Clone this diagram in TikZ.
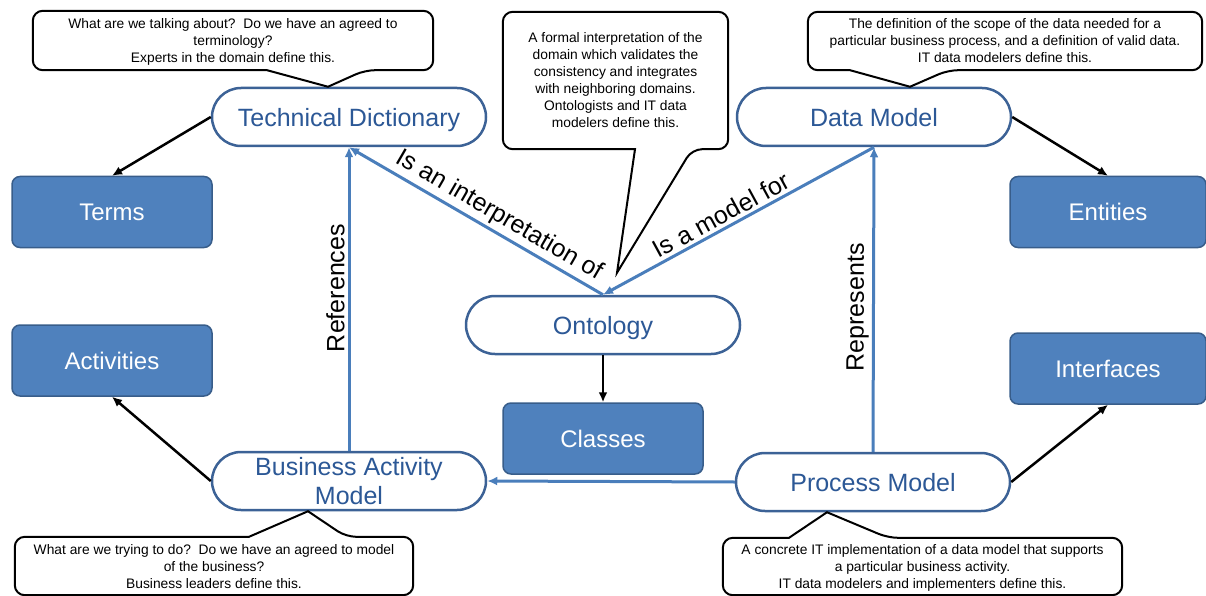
\documentclass[tikz,border=0pt]{standalone}
\usepackage{fontspec}
\setmainfont{Liberation Sans}
\usetikzlibrary{%
    shapes,%
    arrows,%
    arrows.meta,%
    positioning,%
    calc%
}
\definecolor{boxblue}{RGB}{79,129,189}
\definecolor{boxline}{RGB}{56,93,138}
\definecolor{ovaltext}{RGB}{44,88,150}
\definecolor{ovalline}{RGB}{60,98,150}
\definecolor{linkblue}{RGB}{74,126,187}
\tikzset{
    oval/.style = {draw = ovalline, line width = 2.5pt, rounded rectangle, fill = white,
    minimum width = 274pt, minimum height = 58pt, text = ovaltext, align = center,
    inner sep = 0pt, text depth = 0pt, font = \fontsize{25}{29}\selectfont},
    block/.style = {draw = boxline, line width = 1.5pt, rectangle, rounded corners = 8pt,
    fill = boxblue, text = white, minimum width = 200pt, minimum height = 71pt,
    font = \fontsize{24}{28}\selectfont},
    note/.style = {align = center, inner sep = 0pt, text depth = 0pt, font = \fontsize{13.8}{17}\selectfont},
    bubble/.style = {draw = black, line width = 2pt, rounded corners = 10pt},
    arr/.style = {draw = black, line width = 2.5pt, -{Latex[length = 10pt, width = 9pt]}},
    link/.style = {draw = linkblue, line width = 3pt, -{Latex[length = 10pt, width = 9pt]}},
    rel/.style = {inner sep = 3pt, font = \fontsize{25}{29}\selectfont}
}
\begin{document}
\begin{tikzpicture}[x = 1pt, y = -1pt]
    \useasboundingbox (0,0) rectangle (1206,596);
    \node[oval] (dictionary) at (349,117) {Technical Dictionary};
    \node[oval] (datamodel) at (874,117) {Data Model};
    \node[oval] (ontology) at (603,325) {Ontology};
    \node[oval] (activity) at (349,481) {Business Activity\\Model};
    \node[oval] (process) at (873,482) {Process Model};
    \node[block, below = 47pt of ontology] (classes) {Classes};
    \node[block] (terms) at (112,212) {Terms};
    \node[block, below = 76pt of terms] (activities) {Activities};
    \node[block, minimum width = 196pt] (entities) at (1108,212) {Entities};
    \node[block, minimum width = 196pt, below = 84pt of entities] (interfaces) {Interfaces};

    \node[note, minimum width = 400pt, minimum height = 59pt] (termnote) at (233,40.5) {What are we talking about?~~Do we have an agreed to\\terminology?\\Experts in the domain define this.};
    \node[note, minimum width = 225pt, minimum height = 137pt] (ontnote) at (615.5,80.5) {A formal interpretation of the\\domain which validates the\\consistency and integrates\\with neighboring domains.\\Ontologists and IT data\\modelers define this.};
    \node[note, minimum width = 394pt, minimum height = 58pt] (datanote) at (1005,41) {The definition of the scope of the data needed for a\\particular business process, and a definition of valid data.\\IT data modelers define this.};
    \node[note, minimum width = 398pt, minimum height = 58pt] (bamnote) at (214,566) {What are we trying to do?~~Do we have an agreed to model\\of the business?\\Business leaders define this.};
    \node[note, minimum width = 399pt, minimum height = 57pt] (procnote) at (922.5,566.5) {A concrete IT implementation of a data model that supports\\a particular business activity.\\IT data modelers and implementers define this.};

    \draw[bubble] ($(termnote.south)+(34,0)$) -- (termnote.south west) -- (termnote.north west) -- (termnote.north east) -- (termnote.south east) -- ($(termnote.south)+(132,0)$) [sharp corners] -- ($(dictionary.north)+(-21,0)$) -- cycle;
    \draw[bubble] ($(ontnote.south)+(19.5,0)$) -- (ontnote.south west) -- (ontnote.north west) -- (ontnote.north east) -- (ontnote.south east) -- ($(ontnote.south)+(76.5,0)$) [sharp corners] -- ($(ontology.north)+(14,-22)$) -- cycle;
    \draw[bubble] ($(datanote.south)+(-155,0)$) -- (datanote.south west) -- (datanote.north west) -- (datanote.north east) -- (datanote.south east) -- ($(datanote.south)+(-57,0)$) [sharp corners] -- ($(datamodel.north)+(36,0)$) -- cycle;
    \draw[bubble] ($(bamnote.north)+(35,0)$) -- (bamnote.north west) -- (bamnote.south west) -- (bamnote.south east) -- (bamnote.north east) -- ($(bamnote.north)+(132,0)$) [sharp corners] -- ($(activity.south)+(-41,0)$) -- cycle;
    \draw[bubble] ($(procnote.north)+(-133.5,0)$) -- (procnote.north west) -- (procnote.south west) -- (procnote.south east) -- (procnote.north east) -- ($(procnote.north)+(-34.5,0)$) [sharp corners] -- ($(process.south)+(-46,0)$) -- cycle;

    \draw[arr] (dictionary.west) -- (terms.north);
    \draw[arr] (datamodel.east) -- (entities.north);
    \draw[arr] (activity.west) -- (activities.south);
    \draw[arr] (process.east) -- (interfaces.south);
    \draw[arr] (ontology.south) -- (classes.north);

    \draw[link] (activity.north) -- node[rel, sloped, above, pos = 0.536] {References} (dictionary.south);
    \draw[link] (process.north) -- node[rel, sloped, above, pos = 0.474] {Represents} (datamodel.south);
    \draw[link] (ontology.north) -- node[rel, sloped, above, pos = 0.44] {Is an interpretation of} (dictionary.south);
    \draw[link] (datamodel.south) -- node[rel, sloped, above, pos = 0.54] {Is a model for} (ontology.north);
    \draw[link] (process.west) -- (activity.east);
\end{tikzpicture}
\end{document}
